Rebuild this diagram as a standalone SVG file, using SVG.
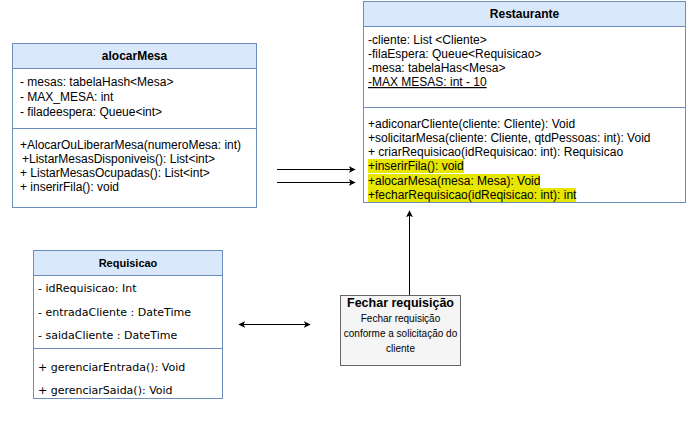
<svg xmlns="http://www.w3.org/2000/svg" width="687" height="432" viewBox="0 0 687 432">
<style>
.box{fill:#ffffff;stroke:#6c8ebf;stroke-width:1}
.hdr{fill:#dae8fc;stroke:#6c8ebf;stroke-width:1}
.t{font-family:"Liberation Sans",Arial,sans-serif;font-size:12px;fill:#000}
.s{font-family:"Liberation Sans",Arial,sans-serif;font-size:10px;fill:#000}
.b{font-family:"Liberation Sans",Arial,sans-serif;font-size:12px;font-weight:bold;fill:#000}
.r{font-family:"DejaVu Sans","Liberation Sans",sans-serif;font-size:11px;fill:#000}
.hl{fill:#e6e600}
.c{stroke:#000;stroke-width:1;fill:none}
</style>
<defs>
<marker id="ah" viewBox="0 0 10 10" refX="9" refY="5" markerWidth="7" markerHeight="7" orient="auto-start-reverse" markerUnits="userSpaceOnUse">
<path d="M0,0 L10,5 L0,10 L2.5,5 Z" fill="#000"/>
</marker>
</defs>
<rect width="687" height="432" fill="#fff"/>
<g id="alocarMesa">
<rect class="box" x="12.5" y="43.5" width="244" height="164"/>
<rect class="hdr" x="12.5" y="43.5" width="244" height="25"/>
<text class="b" x="134.5" y="60" text-anchor="middle">alocarMesa</text>
<text class="t" x="20" y="86">- mesas: tabelaHash&lt;Mesa&gt;</text>
<text class="t" x="20" y="101">- MAX_MESA: int</text>
<text class="t" x="20" y="116">- filadeespera: Queue&lt;int&gt;</text>
<line x1="12.5" y1="128.5" x2="256.5" y2="128.5" stroke="#6c8ebf"/>
<text class="t" x="20" y="149">+AlocarOuLiberarMesa(numeroMesa: int)</text>
<text class="t" x="22" y="163">+ListarMesasDisponiveis(): List&lt;int&gt;</text>
<text class="t" x="20" y="177">+ ListarMesasOcupadas(): List&lt;int&gt;</text>
<text class="t" x="20" y="191">+ inserirFila(): void</text>
</g>
<g id="Restaurante">
<rect class="box" x="363.5" y="1.5" width="322" height="201"/>
<rect class="hdr" x="363.5" y="1.5" width="322" height="25"/>
<text class="b" x="524.5" y="18" text-anchor="middle">Restaurante</text>
<text class="t" x="368" y="44">-cliente: List &lt;Cliente&gt;</text>
<text class="t" x="368" y="58">-filaEspera: Queue&lt;Requisicao&gt;</text>
<text class="t" x="368" y="72">-mesa: tabelaHas&lt;Mesa&gt;</text>
<text class="t" x="368" y="86" text-decoration="underline">-MAX MESAS: int - 10</text>
<line x1="363.5" y1="107.5" x2="685.5" y2="107.5" stroke="#6c8ebf"/>
<text class="t" x="368" y="128">+adiconarCliente(cliente: Cliente): Void</text>
<text class="t" x="368" y="142">+solicitarMesa(cliente: Cliente, qtdPessoas: int): Void</text>
<text class="t" x="368" y="156">+ criarRequisicao(idRequisicao: int): Requisicao</text>
<rect class="hl" x="368" y="159" width="96" height="14"/>
<rect class="hl" x="368" y="174" width="172" height="14"/>
<rect class="hl" x="368" y="188" width="208" height="14"/>
<text class="t" x="368" y="170">+inserirFila(): void</text>
<text class="t" x="368" y="185">+alocarMesa(mesa: Mesa): Void</text>
<text class="t" x="368" y="199">+fecharRequisicao(idReqisicao: int): int</text>
</g>
<g id="Requisicao">
<rect class="box" x="33.5" y="250.5" width="189" height="148"/>
<rect class="hdr" x="33.5" y="250.5" width="189" height="25"/>
<text class="b" x="128" y="267" text-anchor="middle" style="font-size:11px">Requisicao</text>
<text class="r" x="38" y="292">- idRequisicao: Int</text>
<text class="r" x="38" y="316">- entradaCliente : DateTime</text>
<text class="r" x="38" y="339">- saidaCliente : DateTime</text>
<line x1="33.5" y1="348.5" x2="222.5" y2="348.5" stroke="#6c8ebf"/>
<text class="r" x="38" y="371">+ gerenciarEntrada(): Void</text>
<text class="r" x="38" y="394">+ gerenciarSaida(): Void</text>
</g>
<g id="FecharRequisicao">
<rect x="340.5" y="295.5" width="120" height="70" fill="#f5f5f5" stroke="#666666"/>
<text class="b" x="400.5" y="307" text-anchor="middle" style="font-size:12.5px">Fechar requisição</text>
<text class="s" x="400.5" y="322" text-anchor="middle">Fechar requisição</text>
<text class="s" x="400.5" y="337" text-anchor="middle">conforme a solicitação do</text>
<text class="s" x="400.5" y="352" text-anchor="middle">cliente</text>
</g>
<g id="connectors">
<line class="c" x1="277" y1="169.5" x2="355" y2="169.5" marker-end="url(#ah)"/>
<line class="c" x1="277" y1="182.5" x2="355" y2="182.5" marker-end="url(#ah)"/>
<line class="c" x1="239" y1="324.5" x2="310" y2="324.5" marker-start="url(#ah)" marker-end="url(#ah)"/>
<line class="c" x1="409.5" y1="295" x2="409.5" y2="211" marker-end="url(#ah)"/>
</g>
</svg>
